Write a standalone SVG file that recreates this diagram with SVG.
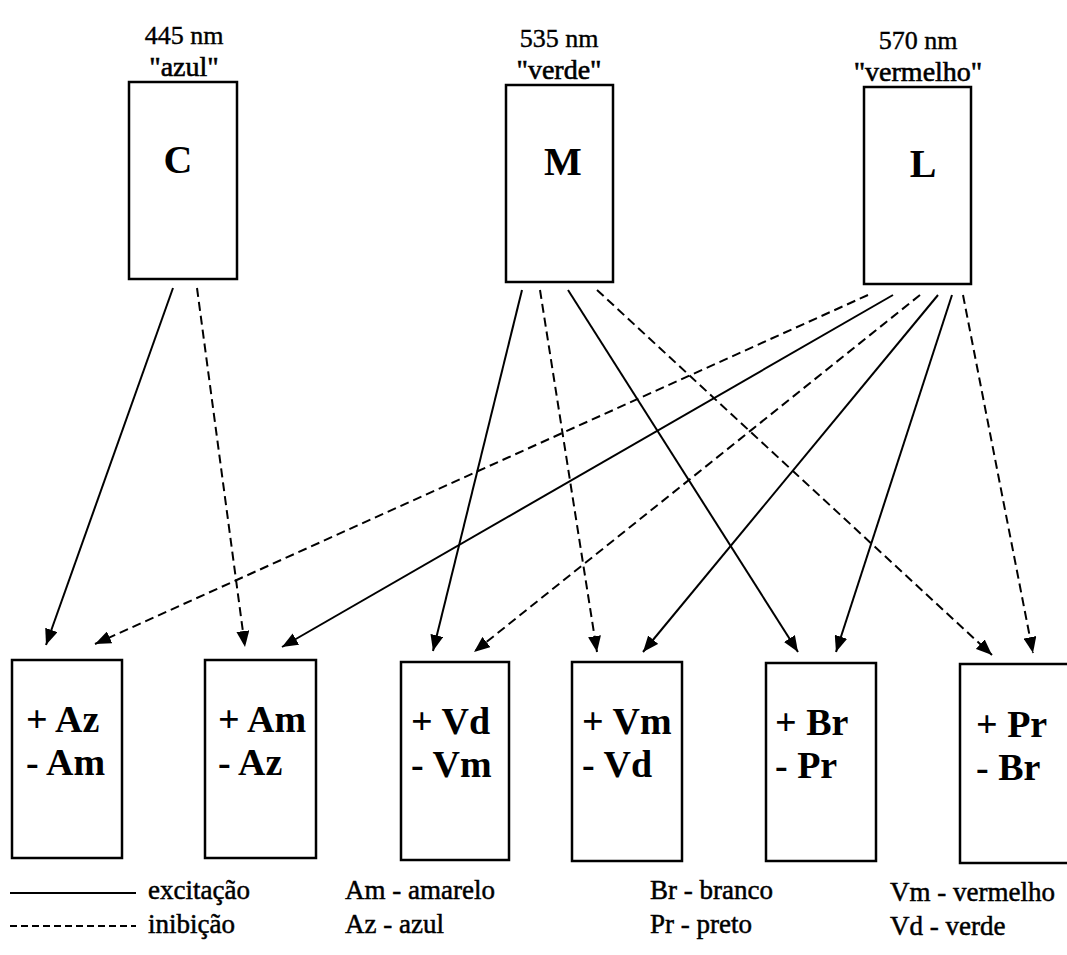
<svg xmlns="http://www.w3.org/2000/svg" width="1067" height="955" viewBox="0 0 1067 955">
  <defs>
    <marker id="arrow" markerUnits="userSpaceOnUse" markerWidth="17" markerHeight="13" refX="16" refY="6.5" orient="auto">
      <path d="M0,0 L16,6.5 L0,13 Z" fill="#000"/>
    </marker>
    <style>
      .box { fill: #fff; stroke: #000; stroke-width: 2.5; }
      .cone { font-family: "Liberation Serif", "Times New Roman", serif; font-weight: bold; font-size: 40px; text-anchor: middle; fill: #000; }
      .nm { font-family: "Liberation Serif", "Times New Roman", serif; font-size: 26px; text-anchor: middle; fill: #000; stroke: #000; stroke-width: 0.4; }
      .name { font-family: "Liberation Serif", "Times New Roman", serif; font-size: 28px; text-anchor: middle; fill: #000; stroke: #000; stroke-width: 0.6; }
      .opp { font-family: "Liberation Serif", "Times New Roman", serif; font-weight: bold; font-size: 38px; fill: #000; }
      .leg { font-family: "Liberation Serif", "Times New Roman", serif; font-size: 27px; fill: #000; stroke: #000; stroke-width: 0.5; }
      .exc { fill: none; stroke: #000; stroke-width: 2; marker-end: url(#arrow); }
      .inh { fill: none; stroke: #000; stroke-width: 2; stroke-dasharray: 9 5; marker-end: url(#arrow); }
    </style>
  </defs>
  <rect width="1067" height="955" fill="#fff"/>

  <!-- Cone receptors -->
  <g id="cone-C">
    <text class="nm" x="184" y="44">445 nm</text>
    <text class="name" x="184" y="76">"azul"</text>
    <rect class="box" x="129" y="82" width="108" height="197"/>
    <text class="cone" x="178" y="173">C</text>
  </g>
  <g id="cone-M">
    <text class="nm" x="559" y="47">535 nm</text>
    <text class="name" x="559" y="79">"verde"</text>
    <rect class="box" x="506" y="85" width="107" height="197"/>
    <text class="cone" x="563" y="175">M</text>
  </g>
  <g id="cone-L">
    <text class="nm" x="918" y="49">570 nm</text>
    <text class="name" x="918" y="81">"vermelho"</text>
    <rect class="box" x="864" y="87" width="107" height="197"/>
    <text class="cone" x="923" y="177">L</text>
  </g>

  <!-- Opponent channels -->
  <g id="opp-Az-Am">
    <rect class="box" x="12" y="660" width="110" height="198"/>
    <text class="opp" x="26" y="732">+ Az</text>
    <text class="opp" x="26" y="775">- Am</text>
  </g>
  <g id="opp-Am-Az">
    <rect class="box" x="205" y="660" width="111" height="198"/>
    <text class="opp" x="218" y="732">+ Am</text>
    <text class="opp" x="218" y="775">- Az</text>
  </g>
  <g id="opp-Vd-Vm">
    <rect class="box" x="401" y="662" width="108" height="198"/>
    <text class="opp" x="411" y="734">+ Vd</text>
    <text class="opp" x="411" y="777">- Vm</text>
  </g>
  <g id="opp-Vm-Vd">
    <rect class="box" x="572" y="662" width="110" height="199"/>
    <text class="opp" x="582" y="734">+ Vm</text>
    <text class="opp" x="582" y="777">- Vd</text>
  </g>
  <g id="opp-Br-Pr">
    <rect class="box" x="766" y="663" width="110" height="198"/>
    <text class="opp" x="775" y="735">+ Br</text>
    <text class="opp" x="775" y="778">- Pr</text>
  </g>
  <g id="opp-Pr-Br">
    <rect class="box" x="960" y="664" width="112" height="199"/>
    <text class="opp" x="976" y="737">+ Pr</text>
    <text class="opp" x="976" y="780">- Br</text>
  </g>

  <!-- Connections: solid = excitation, dashed = inhibition -->
  <g id="connectors">
    <line class="exc" x1="173" y1="288" x2="46" y2="645"/>
    <line class="inh" x1="197" y1="288" x2="245" y2="647"/>

    <line class="exc" x1="522" y1="290" x2="433" y2="651"/>
    <line class="inh" x1="540" y1="290" x2="597" y2="652"/>
    <line class="exc" x1="568" y1="290" x2="798" y2="652"/>
    <line class="inh" x1="597" y1="290" x2="992" y2="655"/>

    <line class="inh" x1="868" y1="295" x2="95" y2="644"/>
    <line class="exc" x1="893" y1="295" x2="282" y2="647"/>
    <line class="inh" x1="920" y1="295" x2="474" y2="652"/>
    <line class="exc" x1="938" y1="295" x2="643" y2="652"/>
    <line class="exc" x1="952" y1="295" x2="836" y2="652"/>
    <line class="inh" x1="963" y1="295" x2="1033" y2="653"/>
  </g>

  <!-- Legend -->
  <g id="legend">
    <line x1="10" y1="893" x2="136" y2="893" stroke="#000" stroke-width="2"/>
    <line x1="10" y1="926" x2="136" y2="926" stroke="#000" stroke-width="1.8" stroke-dasharray="7 4"/>
    <text class="leg" x="148" y="899">excitação</text>
    <text class="leg" x="148" y="933">inibição</text>
    <text class="leg" x="345" y="899">Am - amarelo</text>
    <text class="leg" x="345" y="933">Az - azul</text>
    <text class="leg" x="650" y="899">Br - branco</text>
    <text class="leg" x="650" y="933">Pr - preto</text>
    <text class="leg" x="890" y="901">Vm - vermelho</text>
    <text class="leg" x="890" y="935">Vd - verde</text>
  </g>
</svg>
